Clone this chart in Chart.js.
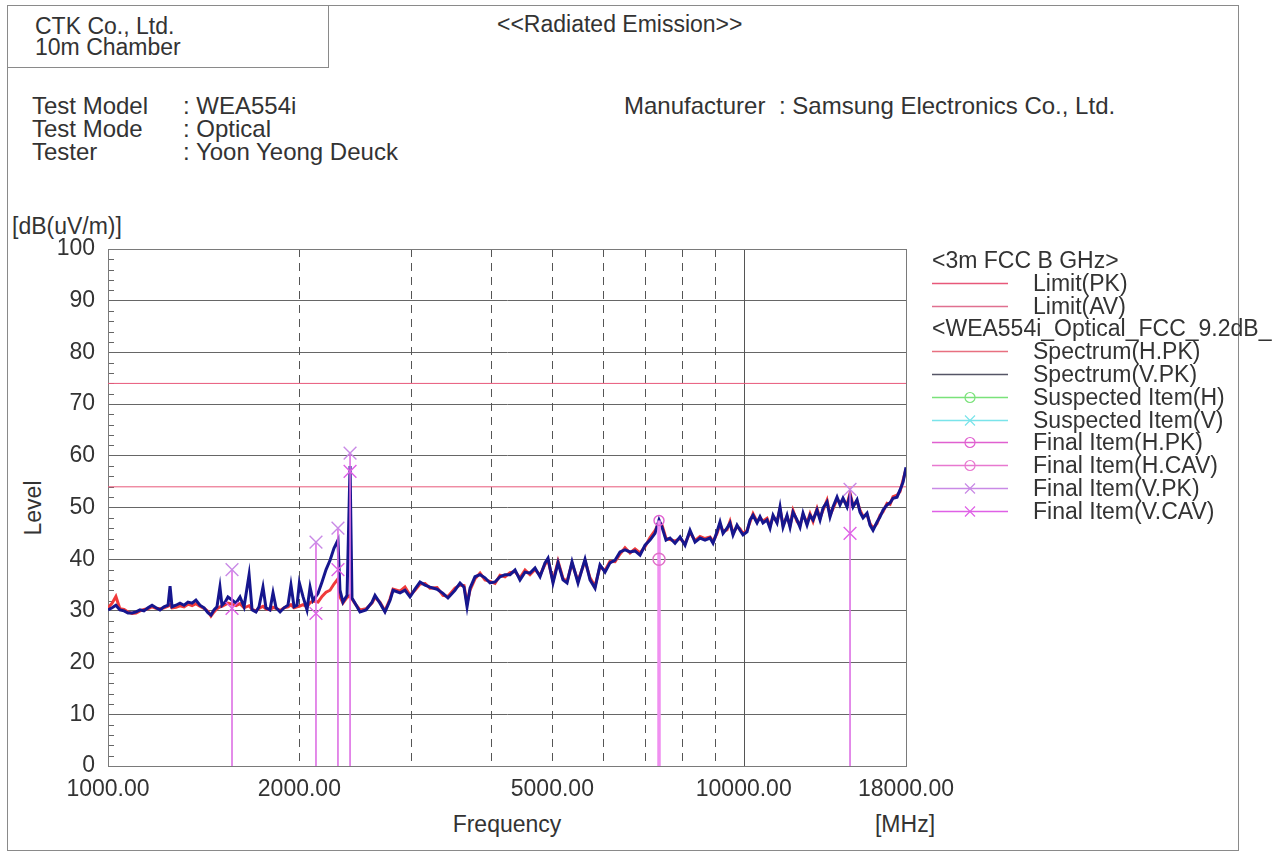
<!DOCTYPE html>
<html>
<head>
<meta charset="utf-8">
<script src="https://cdn.jsdelivr.net/npm/chart.js@4.4.1/dist/chart.umd.min.js"></script>
<style>
  html,body{margin:0;padding:0;background:#fff;}
  body{width:1279px;height:854px;overflow:hidden;position:relative;font-family:"Liberation Sans",Arial,sans-serif;color:#333;}
  .t{position:absolute;white-space:nowrap;font-size:23px;line-height:24px;}
  .i{font-size:24px;}
  #frame{position:absolute;left:7px;top:5px;width:1232px;height:846px;border:1px solid #8a8a8a;box-sizing:border-box;}
  #corner{position:absolute;left:7px;top:5px;width:322px;height:63px;border:1px solid #8a8a8a;box-sizing:border-box;}
  #chartWrap{position:absolute;left:0;top:0;width:1279px;height:854px;}
  #legendSvg{position:absolute;left:0;top:0;}
</style>
</head>
<body>
<div id="frame"></div>
<div id="corner"></div>
<div class="t" style="left:35px;top:14px;">CTK Co., Ltd.</div>
<div class="t" style="left:35px;top:35px;">10m Chamber</div>
<div class="t" style="left:497px;top:12px;">&lt;&lt;Radiated Emission&gt;&gt;</div>

<div class="t i" style="left:32px;top:94px;">Test Model</div>
<div class="t i" style="left:32px;top:117px;">Test Mode</div>
<div class="t i" style="left:32px;top:140px;">Tester</div>
<div class="t i" style="left:183px;top:94px;">: WEA554i</div>
<div class="t i" style="left:183px;top:117px;">: Optical</div>
<div class="t i" style="left:183px;top:140px;">: Yoon Yeong Deuck</div>
<div class="t i" style="left:624px;top:94px;">Manufacturer</div>
<div class="t i" style="left:779px;top:94px;">: Samsung Electronics Co., Ltd.</div>

<div class="t" style="left:12px;top:214px;">[dB(uV/m)]</div>
<div class="t" style="left:33px;top:508px;transform:translate(-50%,-50%) rotate(-90deg);">Level</div>
<div class="t" style="left:507px;top:824px;transform:translate(-50%,-50%);">Frequency</div>
<div class="t" style="left:905px;top:824px;transform:translate(-50%,-50%);">[MHz]</div>

<div id="chartWrap"><canvas id="c" width="1279" height="854"></canvas></div>
<svg id="legendSvg" width="1279" height="854"></svg>
<div id="legendText"></div>

<script>
// ---------------- DATA ----------------
const freqMHz = [
  1000,1015,1029,1044,1060,1075,1091,1107,1123,1139,1156,1173,1190,1207,1225,1243,1252,1261,1279,1298,
  1317,1336,1356,1375,1395,1416,1437,1452,1468,1484,1500,1511,1528,1544,1567,1590,1613,1637,1667,1685,
  1709,1728,1753,1772,1798,1818,1838,1865,1892,1919,1940,1962,1983,2000,2027,2056,2079,2101,2140,2171,
  2203,2235,2267,2300,2317,2342,2377,2403,2420,2447,2491,2546,2602,2630,2678,2727,2777,2808,2880,2932,
  2986,3040,3096,3153,3210,3293,3365,3426,3514,3579,3631,3671,3711,3778,3848,3918,3989,4062,4137,4212,
  4289,4368,4447,4529,4611,4696,4782,4869,4922,5012,5104,5197,5273,5369,5487,5628,5731,5836,5942,6051,
  6161,6274,6389,6505,6624,6745,6869,6994,7122,7252,7358,7438,7547,7657,7797,7940,8085,8232,8383,8536,
  8692,8851,8948,9078,9177,9278,9413,9516,9620,9760,9867,9975,10120,10231,10343,10494,10608,10724,10881,11000,
  11120,11282,11405,11530,11698,11826,11955,12130,12262,12396,12577,12715,12854,13041,13184,13328,13522,13670,13819,14021,
  14174,14329,14538,14697,14858,15075,15239,15406,15631,15802,15974,16207,16385,16564,16805,16989,17175,17425,17616,17808,
  18000
];
const spectrumV = [
  30.2,30.6,31.1,30.2,30.0,29.6,29.6,29.8,30.2,30.0,30.6,31.1,30.6,30.2,30.8,31.1,34.8,30.8,31.1,31.5,
  31.1,31.7,31.5,32.1,31.1,30.6,29.6,29.2,30.2,30.8,34.6,31.1,31.7,32.7,32.1,31.5,32.7,30.8,37.0,30.2,
  29.8,30.8,34.6,30.6,30.2,33.5,30.6,29.8,30.6,31.1,35.0,30.8,31.1,35.4,32.7,30.2,34.6,32.0,33.4,35.6,
  38.0,39.8,42.1,43.7,34.0,31.7,33.0,58.0,32.5,31.5,29.8,30.2,31.7,33.0,31.5,29.8,32.0,34.0,33.5,34.0,
  32.7,34.2,35.6,35.0,34.6,34.2,33.4,32.5,34.0,35.4,34.6,30.8,34.4,36.6,37.0,36.4,35.4,35.6,36.6,37.0,
  37.0,37.9,36.0,37.5,37.3,38.3,36.6,39.3,40.2,35.4,39.3,36.0,35.4,39.5,35.4,40.0,36.0,34.4,38.9,37.5,
  39.3,39.8,41.4,41.8,41.4,41.6,40.8,42.7,43.7,45.0,47.6,46.2,43.7,44.1,43.1,44.3,42.7,45.6,43.3,44.1,
  43.7,44.1,43.1,45.3,47.2,45.0,46.0,47.0,44.7,46.6,45.6,44.7,45.3,47.6,48.5,47.0,48.2,47.0,47.6,46.0,
  48.5,47.0,50.1,46.2,48.5,46.2,49.1,47.6,46.2,48.9,46.6,48.5,47.6,49.5,47.6,49.9,51.1,48.2,50.1,52.0,
  50.5,51.8,50.1,52.4,50.1,51.5,49.1,48.0,48.9,46.6,45.6,47.2,48.2,49.5,50.5,50.9,51.8,52.0,53.4,54.9,
  57.8
];
const spectrumH = [
  30.6,31.5,32.8,30.4,30.3,29.8,29.5,29.6,30.0,30.3,30.4,30.8,30.5,30.4,30.6,30.9,31.2,30.6,30.7,31.0,
  30.8,31.3,31.0,31.4,30.9,30.5,29.9,29.0,29.8,30.4,30.8,30.9,31.2,31.5,31.3,31.0,31.4,30.6,31.0,30.3,
  30.0,30.5,30.9,30.4,30.2,30.7,30.5,30.1,30.6,30.8,31.2,30.6,30.8,30.9,31.2,30.8,31.6,31.9,31.7,32.8,
  33.6,34.0,35.2,36.2,32.7,31.5,32.6,33.0,32.3,31.4,30.2,30.4,31.5,32.6,31.7,30.0,32.3,34.2,33.8,34.6,
  33.0,34.0,35.2,35.3,34.4,34.5,33.0,32.8,34.4,35.0,34.9,31.5,34.0,36.2,37.3,36.0,35.7,35.3,36.9,36.6,
  37.4,37.6,36.4,37.9,37.0,38.0,36.9,39.0,39.8,35.8,39.6,36.3,35.7,39.2,35.8,39.7,36.4,34.8,38.6,37.8,
  39.6,39.5,41.0,42.2,41.2,42.0,41.2,42.4,44.2,45.5,47.2,46.6,44.0,43.8,43.5,44.0,43.0,45.2,43.6,44.4,
  44.0,44.3,43.4,45.0,46.8,45.4,45.7,47.3,45.0,46.3,45.9,44.9,45.6,47.2,48.8,47.3,47.9,47.4,47.9,46.4,
  48.2,47.3,49.7,46.6,48.2,46.5,49.4,47.3,46.6,48.6,47.0,48.8,47.3,49.8,47.9,49.5,51.4,48.5,49.8,51.6,
  50.9,51.5,50.5,52.8,50.4,51.2,49.5,48.3,48.6,46.9,46.0,46.9,48.5,49.2,50.8,50.6,52.1,52.4,53.1,55.3,
  57.4
];
const limitFreq = [1000, 18000];
const limitPK = [74, 74];
const limitAV = [54, 54];

const finalVFreq = [1567, 2124, 2300, 2403, 14697];
const finalVPK   = [38.0, 43.3, 46.0, 60.5, 53.5];
const finalVCAV  = [30.5, 29.5, 38.0, 57.0, 45.0];
const finalHFreq = [7358];
const finalHPK   = [47.5];
const finalHCAV  = [40.0];

const xTickValues = [1000, 2000, 5000, 10000, 18000];
const xTickLabels = ['1000.00', '2000.00', '5000.00', '10000.00', '18000.00'];
const xDashedLines = [2000, 3000, 4000, 5000, 6000, 7000, 8000, 9000];
const xSolidLines = [10000];

// ---------------- BUILD ----------------
const pts = (xs, ys) => xs.map((x, i) => ({x, y: ys[i]}));
function stems(xs, a, b) {
  const out = [];
  xs.forEach((x, i) => { out.push({x, y: 0}, {x, y: Math.max(a[i], b[i])}, {x, y: null}); });
  return out;
}

const COL_V = '#16168e', COL_H = '#f03a3a', COL_LIM = '#e8587a';

const gridPlugin = {
  id: 'emcGrid',
  beforeDatasetsDraw(chart) {
    const {ctx, chartArea: a, scales: {x, y}} = chart;
    ctx.save();
    ctx.lineWidth = 1;
    ctx.strokeStyle = '#555';
    ctx.setLineDash([8, 6]);
    xDashedLines.forEach(v => {
      const px = Math.round(x.getPixelForValue(v)) + 0.5;
      ctx.beginPath(); ctx.moveTo(px, a.top); ctx.lineTo(px, a.bottom); ctx.stroke();
    });
    ctx.setLineDash([]);
    xSolidLines.forEach(v => {
      const px = Math.round(x.getPixelForValue(v)) + 0.5;
      ctx.beginPath(); ctx.moveTo(px, a.top); ctx.lineTo(px, a.bottom); ctx.stroke();
    });
    ctx.strokeStyle = '#666';
    for (let v = 2; v < 100; v += 2) {
      if (v % 10 === 0) continue;
      const py = Math.round(y.getPixelForValue(v)) + 0.5;
      ctx.beginPath(); ctx.moveTo(a.left, py); ctx.lineTo(a.left + 6, py); ctx.stroke();
    }
    ctx.strokeStyle = '#7a7a7a';
    ctx.strokeRect(Math.round(a.left) + 0.5, Math.round(a.top) + 0.5, Math.round(a.right - a.left), Math.round(a.bottom - a.top));
    ctx.restore();
  }
};

const labelFor = {};
xTickValues.forEach((v, i) => labelFor[v] = xTickLabels[i]);

new Chart(document.getElementById('c'), {
  type: 'line',
  data: {
    datasets: [
      {label: 'Limit(PK)', data: pts(limitFreq, limitPK), borderColor: COL_LIM, borderWidth: 1, pointRadius: 0, order: 5},
      {label: 'Limit(AV)', data: pts(limitFreq, limitAV), borderColor: COL_LIM, borderWidth: 1, pointRadius: 0, order: 5},
      {label: 'Spectrum(H.PK)', data: pts(freqMHz, spectrumH), borderColor: COL_H, borderWidth: 3, pointRadius: 0, order: 4},
      {label: 'Spectrum(V.PK)', data: pts(freqMHz, spectrumV), borderColor: COL_V, borderWidth: 3, pointRadius: 0, order: 3},
      {label: 'stemsV', data: stems(finalVFreq, finalVPK, finalVCAV), borderColor: '#dd70e4', borderWidth: 1.6, pointRadius: 0, spanGaps: false, order: 2},
      {label: 'stemsH', data: stems(finalHFreq, finalHPK, finalHCAV), borderColor: '#f090f0', borderWidth: 3.5, pointRadius: 0, spanGaps: false, order: 2},
      {label: 'Final Item(V.PK)', data: pts(finalVFreq, finalVPK), showLine: false, pointStyle: 'crossRot', pointRadius: 9, borderColor: '#c98ae6', borderWidth: 1.4, order: 1},
      {label: 'Final Item(V.CAV)', data: pts(finalVFreq, finalVCAV), showLine: false, pointStyle: 'crossRot', pointRadius: 9, borderColor: '#df60e6', borderWidth: 1.4, order: 1},
      {label: 'Final Item(H.PK)', data: pts(finalHFreq, finalHPK), showLine: false, pointStyle: 'circle', pointRadius: 5, borderColor: '#e060d0', backgroundColor: 'rgba(0,0,0,0)', borderWidth: 1.4, order: 1},
      {label: 'Final Item(H.CAV)', data: pts(finalHFreq, finalHCAV), showLine: false, pointStyle: 'circle', pointRadius: 6, borderColor: '#e070c8', backgroundColor: 'rgba(0,0,0,0)', borderWidth: 1.4, order: 1}
    ]
  },
  options: {
    responsive: false,
    animation: false,
    devicePixelRatio: 1,
    layout: {padding: {left: 0, top: 249, right: 373, bottom: 48}},
    plugins: {legend: {display: false}, tooltip: {enabled: false}},
    elements: {line: {tension: 0}},
    scales: {
      x: {
        type: 'logarithmic', min: 1000, max: 18000,
        afterBuildTicks: s => { s.ticks = xTickValues.map(v => ({value: v})); },
        afterFit: s => { s.height = 40; },
        grid: {display: false, drawTicks: false},
        border: {display: true, color: '#7a7a7a'},
        ticks: {autoSkip: false, maxRotation: 0, padding: 10, color: '#333',
                font: {family: 'Liberation Sans', size: 23},
                callback: v => labelFor[v] || ''}
      },
      y: {
        type: 'linear', min: 0, max: 100,
        afterFit: s => { s.width = 108; },
        grid: {color: '#666', lineWidth: 1, drawTicks: false},
        border: {display: true, color: '#7a7a7a'},
        ticks: {stepSize: 10, padding: 13, color: '#333', font: {family: 'Liberation Sans', size: 23}}
      }
    }
  },
  plugins: [gridPlugin]
});

// ---------------- LEGEND ----------------
const legendRows = [
  {text: '<3m FCC B GHz>', header: true},
  {text: 'Limit(PK)', color: '#e8587a'},
  {text: 'Limit(AV)', color: '#e07090'},
  {text: '<WEA554i_Optical_FCC_9.2dB_', header: true},
  {text: 'Spectrum(H.PK)', color: '#e87080'},
  {text: 'Spectrum(V.PK)', color: '#555566'},
  {text: 'Suspected Item(H)', color: '#7ae27a', mark: 'o'},
  {text: 'Suspected Item(V)', color: '#7ae4ea', mark: 'x'},
  {text: 'Final Item(H.PK)', color: '#e060d0', mark: 'o'},
  {text: 'Final Item(H.CAV)', color: '#e878d0', mark: 'o'},
  {text: 'Final Item(V.PK)', color: '#c98ae6', mark: 'x'},
  {text: 'Final Item(V.CAV)', color: '#df60e6', mark: 'x'}
];
const svg = document.getElementById('legendSvg');
const lt = document.getElementById('legendText');
const NS = 'http://www.w3.org/2000/svg';
legendRows.forEach((r, i) => {
  const cy = 260 + i * 22.8;
  const d = document.createElement('div');
  d.className = 't';
  d.textContent = r.text;
  d.style.left = (r.header ? 932 : 1033) + 'px';
  d.style.top = (cy - 12) + 'px';
  lt.appendChild(d);
  if (r.header) return;
  const yy = Math.round(cy) + 0.5;
  const ln = document.createElementNS(NS, 'line');
  ln.setAttribute('x1', 932); ln.setAttribute('x2', 1008);
  ln.setAttribute('y1', yy); ln.setAttribute('y2', yy);
  ln.setAttribute('stroke', r.color); ln.setAttribute('stroke-width', 1.3);
  svg.appendChild(ln);
  if (r.mark === 'o') {
    const c = document.createElementNS(NS, 'circle');
    c.setAttribute('cx', 970); c.setAttribute('cy', yy); c.setAttribute('r', 5);
    c.setAttribute('fill', 'none'); c.setAttribute('stroke', r.color); c.setAttribute('stroke-width', 1.2);
    svg.appendChild(c);
  } else if (r.mark === 'x') {
    const p = document.createElementNS(NS, 'path');
    p.setAttribute('d', `M965 ${yy-5} L975 ${yy+5} M975 ${yy-5} L965 ${yy+5}`);
    p.setAttribute('stroke', r.color); p.setAttribute('stroke-width', 1.2);
    svg.appendChild(p);
  }
});
</script>
</body>
</html>
